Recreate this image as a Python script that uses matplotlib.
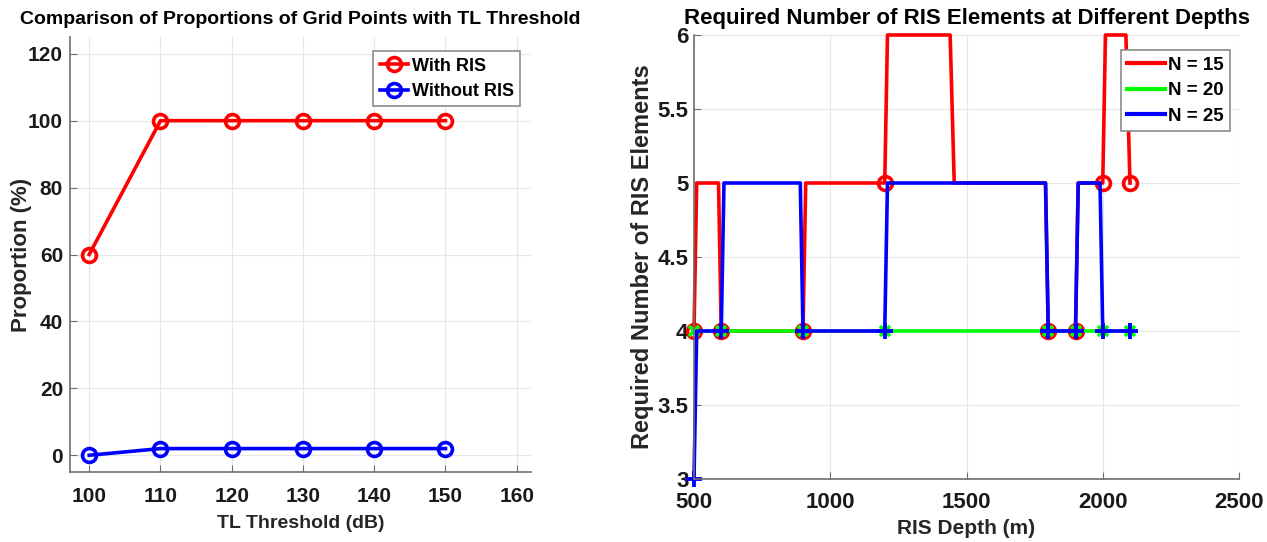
import numpy as np
import matplotlib.pyplot as plt
from matplotlib.lines import Line2D

# left panel data
tl_threshold = [100, 110, 120, 130, 140, 150]
with_ris = [60, 100, 100, 100, 100, 100]
without_ris = [0, 2, 2, 2, 2, 2]

# right panel data (vertices of each curve)
depth_n15 = [500, 510, 590, 600, 900, 910, 1200, 1210, 1440, 1455, 1790, 1800, 1900, 1910, 2000, 2010, 2085, 2100]
elem_n15 = [4, 5, 5, 4, 4, 5, 5, 6, 6, 5, 5, 4, 4, 5, 5, 6, 6, 5]
mark_n15 = [0, 3, 4, 6, 11, 12, 14, 17]

depth_n20 = [500, 600, 900, 1200, 1800, 1900, 2000, 2100]
elem_n20 = [4, 4, 4, 4, 4, 4, 4, 4]

depth_n25 = [500, 510, 600, 610, 890, 900, 1200, 1210, 1790, 1800, 1900, 1910, 1990, 2000, 2100]
elem_n25 = [3, 4, 4, 5, 5, 4, 4, 5, 5, 4, 4, 5, 5, 4, 4]
mark_n25 = [0, 2, 5, 6, 9, 10, 13, 14]

plt.rcParams['font.family'] = ['Liberation Sans', 'DejaVu Sans']
plt.rcParams['font.weight'] = 'bold'

fig = plt.figure(figsize=(12.67, 5.42), dpi=100)
W, H = 1267, 542
ax1 = fig.add_axes([70 / W, 1 - 472 / H, (531 - 70) / W, (472 - 37) / H])
ax2 = fig.add_axes([694 / W, 1 - 479 / H, (1239 - 694) / W, (479 - 35) / H])


def style(ax, size, xpad, ypad):
    ax.grid(True, color='#e6e6e6', linewidth=0.8)
    ax.set_axisbelow(True)
    for s in ['top', 'right']:
        ax.spines[s].set_visible(False)
    for s in ['left', 'bottom']:
        ax.spines[s].set_color('#6e6e6e')
        ax.spines[s].set_linewidth(1.2)
    ax.tick_params(direction='in', length=5, color='#6e6e6e', labelsize=size,
                   labelcolor='#1a1a1a')
    ax.tick_params(axis='x', pad=xpad)
    ax.tick_params(axis='y', pad=ypad)
    for lab in ax.get_xticklabels() + ax.get_yticklabels():
        lab.set_fontweight('bold')


# left
ax1.plot(tl_threshold, with_ris, '-o', color='red', lw=2.6, ms=10, mew=2.6,
         mfc='none', label='With RIS', clip_on=False)
ax1.plot(tl_threshold, without_ris, '-o', color='blue', lw=2.6, ms=10, mew=2.6,
         mfc='none', label='Without RIS', clip_on=False)
ax1.set_xlim(97.3, 162)
ax1.set_ylim(-5, 125)
ax1.set_xticks([100, 110, 120, 130, 140, 150, 160])
ax1.set_yticks([0, 20, 40, 60, 80, 100, 120])
style(ax1, 15, 11, 5)
ax1.set_xlabel('TL Threshold (dB)', fontsize=14, fontweight='bold', color='#262626',
               va='center')
ax1.xaxis.set_label_coords(0.5, (472 - 523) / 435)
ax1.set_ylabel('Proportion (%)', fontsize=16, fontweight='bold', color='#262626',
               va='center')
ax1.yaxis.set_label_coords((22 - 70) / 461, 0.5)
ax1.set_title('Comparison of Proportions of Grid Points with TL Threshold',
              fontsize=14, fontweight='bold', pad=9)
leg1 = ax1.legend(loc='upper right', bbox_to_anchor=(0.985, 0.975), fontsize=13,
                  fancybox=False, edgecolor='#8c8c8c', handlelength=1.6,
                  handletextpad=0.2, borderpad=0.35, labelspacing=0.45,
                  borderaxespad=0.2, framealpha=1)
leg1.get_frame().set_linewidth(1.2)

# right
ax2.plot(depth_n15, elem_n15, '-o', color='red', lw=2.6, ms=10, mew=2.6,
         mfc='none', markevery=mark_n15, clip_on=False)
ax2.plot(depth_n20, elem_n20, '-x', color='#00ff00', lw=2.6, ms=7, mew=2.6,
         clip_on=False)
ax2.plot(depth_n25, elem_n25, '-+', color='blue', lw=2.6, ms=11, mew=2.8,
         markevery=mark_n25, clip_on=False)
ax2.set_xlim(500, 2500)
ax2.set_ylim(3, 6)
ax2.set_xticks([500, 1000, 1500, 2000, 2500])
ax2.set_yticks([3, 3.5, 4, 4.5, 5, 5.5, 6])
ax2.set_yticklabels(['3', '3.5', '4', '4.5', '5', '5.5', '6'])
style(ax2, 16, 9, 4)
ax2.set_xlabel('RIS Depth (m)', fontsize=15, fontweight='bold', color='#262626',
               va='center')
ax2.xaxis.set_label_coords(0.5, (479 - 528) / 444)
ax2.set_ylabel('Required Number of RIS Elements', fontsize=17, fontweight='bold',
               color='#262626', va='center')
ax2.yaxis.set_label_coords((643 - 694) / 545, 0.5)
ax2.set_title('Required Number of RIS Elements at Different Depths',
              fontsize=16, fontweight='bold', pad=8)
handles = [Line2D([], [], color='red', lw=3),
           Line2D([], [], color='#00ff00', lw=3),
           Line2D([], [], color='blue', lw=3)]
leg2 = ax2.legend(handles, ['N = 15', 'N = 20', 'N = 25'], loc='upper right',
                  bbox_to_anchor=(0.99, 0.975), fontsize=13.5, fancybox=False,
                  edgecolor='#8c8c8c', handlelength=2.0, handletextpad=0.15,
                  borderpad=0.35, labelspacing=0.45, borderaxespad=0.2,
                  framealpha=1)
leg2.get_frame().set_linewidth(1.2)

fig.savefig('out.png', dpi=100)
